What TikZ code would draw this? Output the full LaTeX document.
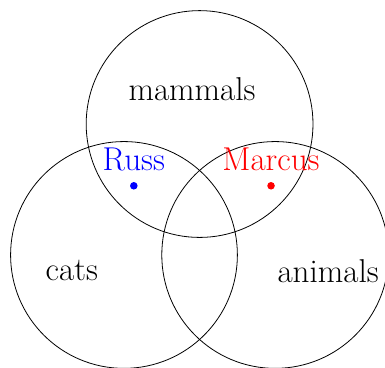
\documentclass[tikz,border=0pt]{standalone}
\usepackage{tikz}
\usetikzlibrary{positioning}
\tikzset{
    vennset/.style={draw, circle, minimum size=6cm, inner sep=0pt, line width=0.6pt},
    setname/.style={font=\Huge, inner sep=0pt},
    member/.style={circle, inner sep=0pt, minimum size=0.2cm},
    membername/.style={font=\Huge, inner sep=0pt},
}
\begin{document}
\begin{tikzpicture}
    \useasboundingbox (-5.28,-2.99) rectangle (4.905,6.745);
    \node[vennset] (mam) at (0,3.464) {};
    \node[vennset] (cat) at (-2,0)    {};
    \node[vennset] (ani) at (2,0)     {};
    \node[setname] (mamname) at (-0.2,4.39)  {mammals};
    \node[setname] (catname) at (-3.38,-0.42) {cats};
    \node[setname] (aniname) at (3.40,-0.42)  {animals};
    \node[member, fill=blue] (russ)   at (-1.74,1.83) {};
    \node[member, fill=red]  (marcus) at (1.89,1.83)  {};
    \node[membername, text=blue, above=0.28cm of russ]   (russname)   {Russ};
    \node[membername, text=red,  above=0.28cm of marcus] (marcusname) {Marcus};
\end{tikzpicture}
\end{document}
